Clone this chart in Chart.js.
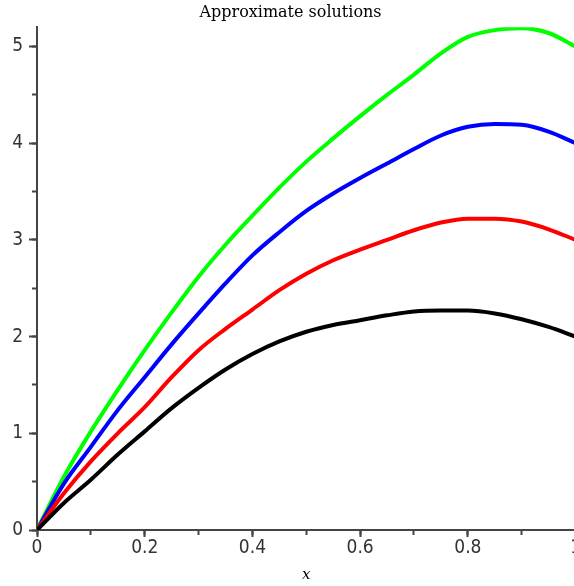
<!DOCTYPE html>
<html lang="en">
<head>
  <meta charset="UTF-8">
  <title>Approximate solutions</title>
  <script src="https://cdn.jsdelivr.net/npm/chart.js"></script>
  <style>
    html, body { margin: 0; padding: 0; background: #fff; overflow: hidden; }
    #wrap { width: 574px; height: 586px; overflow: hidden; }
  </style>
</head>
<body>
  <div id="wrap">
    <canvas id="solChart" width="581" height="586"></canvas>
  </div>

  <script>
    // values
    const xValues = [0, 0.05, 0.1, 0.15, 0.2, 0.25, 0.3, 0.35, 0.4, 0.45, 0.5,
                     0.55, 0.6, 0.65, 0.7, 0.75, 0.8, 0.85, 0.9, 0.95, 1];
    const blackValues = [0, 0.28, 0.52, 0.78, 1.02, 1.26, 1.47, 1.66, 1.82, 1.95, 2.05,
                         2.12, 2.17, 2.22, 2.26, 2.27, 2.27, 2.24, 2.18, 2.10, 2.0];
    const redValues   = [0, 0.38, 0.71, 1.00, 1.27, 1.58, 1.86, 2.08, 2.28, 2.48, 2.65,
                         2.79, 2.90, 3.00, 3.10, 3.18, 3.22, 3.22, 3.19, 3.11, 3.0];
    const blueValues  = [0, 0.48, 0.86, 1.24, 1.58, 1.92, 2.24, 2.55, 2.84, 3.08, 3.30,
                         3.48, 3.64, 3.79, 3.94, 4.08, 4.17, 4.20, 4.19, 4.12, 4.0];
    const greenValues = [0, 0.55, 1.02, 1.45, 1.86, 2.25, 2.62, 2.95, 3.25, 3.54, 3.81,
                         4.05, 4.28, 4.50, 4.71, 4.93, 5.10, 5.17, 5.19, 5.14, 5.0];

    const xMajorStep = 0.2, xMinorStep = 0.1;
    const yMajorStep = 1, yMinorStep = 0.5;
    const yMax = 5.2;

    const axisColor = '#444';
    const tickFont = { family: '"Liberation Sans Narrow", "DejaVu Sans Condensed", sans-serif', size: 19 };

    function toPoints(ys) {
      return xValues.map((x, i) => ({ x: x, y: ys[i] }));
    }

    function line(label, color, ys) {
      return {
        label: label,
        data: toPoints(ys),
        borderColor: color,
        backgroundColor: color,
        borderWidth: 4,
        pointRadius: 0,
        cubicInterpolationMode: 'monotone',
        fill: false
      };
    }

    const ctx = document.getElementById('solChart').getContext('2d');
    new Chart(ctx, {
      type: 'line',
      data: {
        datasets: [
          line('black', '#000000', blackValues),
          line('red', '#ff0000', redValues),
          line('blue', '#0000ff', blueValues),
          line('green', '#00ff00', greenValues)
        ]
      },
      options: {
        responsive: false,
        animation: false,
        devicePixelRatio: 1,
        layout: { padding: 0 },
        plugins: {
          legend: { display: false },
          tooltip: { enabled: false },
          title: {
            display: true,
            text: 'Approximate solutions',
            color: '#000',
            font: { family: '"DejaVu Serif", serif', size: 16, weight: 'normal' },
            padding: { top: 3, bottom: 5 }
          }
        },
        scales: {
          x: {
            type: 'linear',
            position: 'bottom',
            weight: 1,
            min: 0,
            max: 1,
            ticks: {
              stepSize: xMajorStep, color: '#333', font: tickFont, padding: 0,
              maxRotation: 0, includeBounds: false,
              callback: (v) => String(+v.toFixed(1))
            },
            grid: { drawOnChartArea: false, tickLength: 7, tickWidth: 2, color: axisColor },
            border: { color: axisColor, width: 2 },
            title: {
              display: true,
              text: 'x',
              color: '#000',
              font: { family: '"DejaVu Serif", serif', size: 15, style: 'italic' },
              padding: { top: 0, bottom: 2 }
            },
            afterFit: (s) => { s.height = 56; }
          },
          xMinor: {
            type: 'linear',
            position: 'bottom',
            weight: 0,
            min: 0,
            max: 1,
            ticks: { stepSize: xMinorStep, display: false, includeBounds: false },
            grid: { drawOnChartArea: false, tickLength: 5, tickWidth: 2, color: axisColor },
            border: { display: false },
            afterFit: (s) => { s.height = 0; }
          },
          y: {
            type: 'linear',
            position: 'left',
            weight: 1,
            min: 0,
            max: yMax,
            ticks: { stepSize: yMajorStep, color: '#333', font: tickFont, padding: 6, includeBounds: false },
            grid: { drawOnChartArea: false, tickLength: 8, tickWidth: 2, color: axisColor },
            border: { color: axisColor, width: 2 },
            afterFit: (s) => { s.width = 37; }
          },
          yMinor: {
            type: 'linear',
            position: 'left',
            weight: 0,
            min: 0,
            max: yMax,
            ticks: { stepSize: yMinorStep, display: false, includeBounds: false },
            grid: { drawOnChartArea: false, tickLength: 5, tickWidth: 2, color: axisColor },
            border: { display: false },
            afterFit: (s) => { s.width = 0; }
          }
        }
      }
    });
  </script>
</body>
</html>
